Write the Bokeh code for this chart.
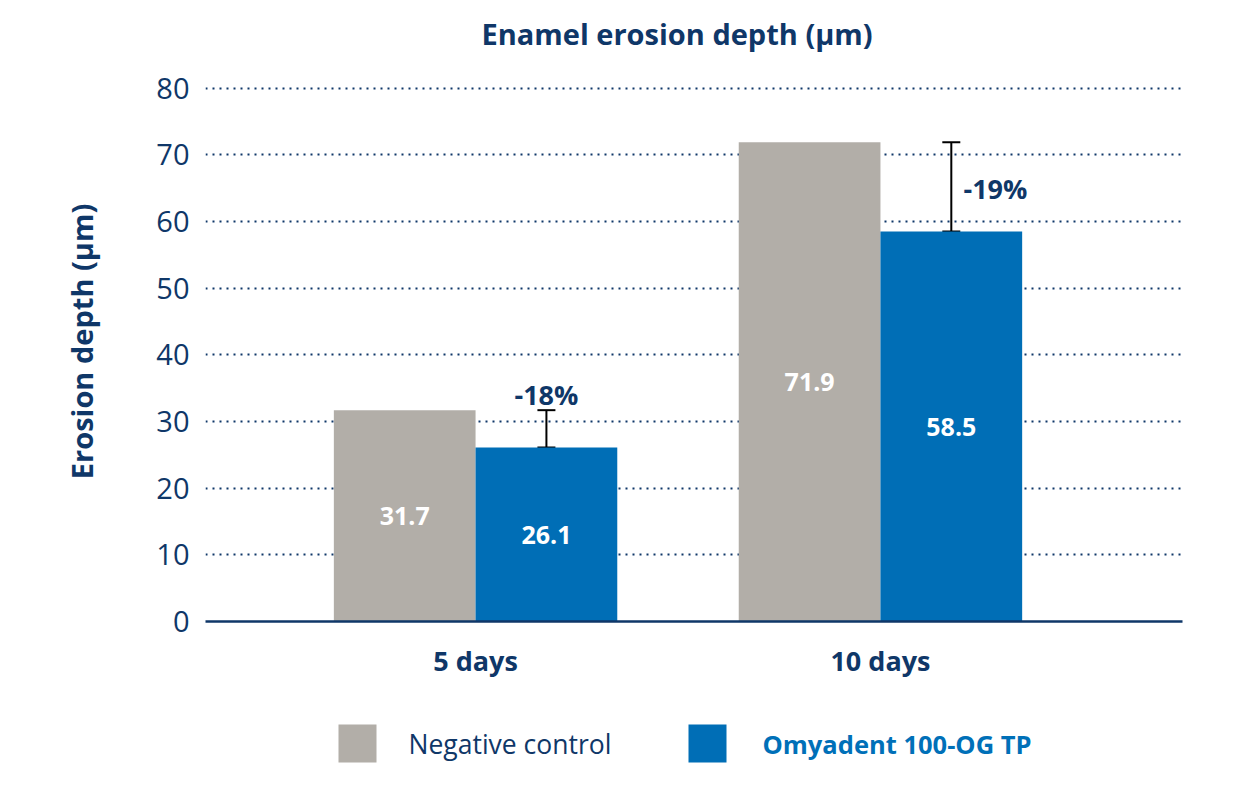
from bokeh.plotting import figure
from bokeh.layouts import column
from bokeh.models import (ColumnDataSource, FixedTicker, Whisker, TeeHead, Range1d)
from bokeh.core.properties import value
from bokeh.embed import file_html
from bokeh.resources import INLINE

# ---- data ----
categories = ["5 days", "10 days"]
cat_pos = [1.0, 2.0]
negative_control = [31.7, 71.9]
omyadent = [26.1, 58.5]
reduction_labels = ["-18%", "-19%"]
y_ticks = [0, 10, 20, 30, 40, 50, 60, 70, 80]
series_names = ["Negative control", "Omyadent 100-OG TP"]

NAVY = "#0f3768"
GRAY = "#b2aea8"
BLUE = "#006eb6"
LEG_BLUE = "#0070b8"
FONT = "Open Sans"
BW = 0.35
LEFT, RIGHT, W = 205, 60, 1242

p = figure(width=W, height=700, output_backend="svg", toolbar_location=None,
           x_range=Range1d(0.333, 2.746), y_range=Range1d(0, 84),
           min_border_left=LEFT, min_border_right=RIGHT, min_border_top=61,
           min_border_bottom=79)
p.outline_line_color = None

xs_ctrl = [c - BW / 2 for c in cat_pos]
xs_omy = [c + BW / 2 for c in cat_pos]
src = ColumnDataSource(dict(
    x_ctrl=xs_ctrl, x_omy=xs_omy, ctrl=negative_control, omy=omyadent,
    ctrl_mid=[v / 2 for v in negative_control], omy_mid=[v / 2 for v in omyadent],
    ctrl_txt=[f"{v:.1f}" for v in negative_control],
    omy_txt=[f"{v:.1f}" for v in omyadent],
))

p.vbar(x="x_ctrl", top="ctrl", width=BW, source=src, fill_color=GRAY, line_color=None)
p.vbar(x="x_omy", top="omy", width=BW, source=src, fill_color=BLUE, line_color=None)

# value labels inside bars
for xcol, ycol, tcol in (("x_ctrl", "ctrl_mid", "ctrl_txt"), ("x_omy", "omy_mid", "omy_txt")):
    p.text(x=xcol, y=ycol, text=tcol, source=src, text_color="white",
           text_font=value(FONT), text_font_style="bold", text_font_size="25px",
           text_align="center", text_baseline="middle")

# bracket from treatment to control
wsrc = ColumnDataSource(dict(base=xs_omy, lower=omyadent, upper=negative_control))
w = Whisker(source=wsrc, base="base", lower="lower", upper="upper",
            line_color="black", line_width=2,
            upper_head=TeeHead(size=18, line_color="black", line_width=2),
            lower_head=TeeHead(size=18, line_color="black", line_width=2))
p.add_layout(w)

# reduction labels
p.text(x=[xs_omy[0]], y=[negative_control[0] + 2.3], text=[reduction_labels[0]],
       text_color=NAVY, text_font=value(FONT), text_font_style="bold",
       text_font_size="27px", text_align="center", text_baseline="middle")
p.text(x=[xs_omy[1] + 0.03], y=[(negative_control[1] + omyadent[1]) / 2 - 0.3],
       text=[reduction_labels[1]], text_color=NAVY, text_font=value(FONT),
       text_font_style="bold", text_font_size="27px", text_align="left",
       text_baseline="middle")

# axes
p.yaxis.ticker = FixedTicker(ticks=y_ticks)
p.yaxis.axis_line_color = None
p.yaxis.major_tick_line_color = None
p.yaxis.major_tick_out = 0
p.yaxis.minor_tick_line_color = None
p.yaxis.major_label_text_font = FONT
p.yaxis.major_label_text_font_size = "29px"
p.yaxis.major_label_text_color = NAVY
p.yaxis.major_label_standoff = 16
p.yaxis.axis_label = "Erosion depth (µm)"
p.yaxis.axis_label_text_font = FONT
p.yaxis.axis_label_text_font_style = "bold"
p.yaxis.axis_label_text_font_size = "29px"
p.yaxis.axis_label_text_color = NAVY
p.yaxis.axis_label_standoff = 52

p.xaxis.ticker = FixedTicker(ticks=cat_pos)
p.xaxis.major_label_overrides = {cat_pos[i]: categories[i] for i in range(len(categories))}
p.xaxis.axis_line_color = NAVY
p.xaxis.axis_line_width = 2.5
p.xaxis.major_tick_line_color = None
p.xaxis.major_tick_out = 0
p.xaxis.minor_tick_line_color = None
p.xaxis.major_label_text_font = FONT
p.xaxis.major_label_text_font_style = "bold"
p.xaxis.major_label_text_font_size = "27px"
p.xaxis.major_label_text_color = NAVY
p.xaxis.major_label_standoff = 20

p.xgrid.grid_line_color = None
p.ygrid.grid_line_color = NAVY
p.ygrid.grid_line_width = 2
p.ygrid.grid_line_dash = "2 5"

# title
p.title.text = "Enamel erosion depth (µm)"
p.title.text_font = FONT
p.title.text_font_style = "bold"
p.title.text_font_size = "29px"
p.title.text_color = NAVY
p.title.align = "left"
p.title.offset = 276
p.title.standoff = 18

# legend strip (separate panel below, frame aligned with the chart frame;
# its x range is in page pixels)
leg = figure(width=W, height=80, output_backend="svg", toolbar_location=None,
             x_range=Range1d(LEFT, W - RIGHT), y_range=Range1d(0, 80),
             x_axis_type=None, y_axis_type=None,
             min_border_left=LEFT, min_border_right=RIGHT,
             min_border_top=0, min_border_bottom=0)
leg.outline_line_color = None
leg.grid.visible = False
sw_x = [357, 707]
sw_y = [37, 37]
leg.rect(x=sw_x, y=sw_y, width=38, height=38, fill_color=[GRAY, BLUE], line_color=None)
leg.text(x=[sw_x[0] + 51], y=[sw_y[0]], text=[series_names[0]], text_color=NAVY,
         text_font=value(FONT), text_font_size="26.5px", text_align="left",
         text_baseline="middle")
leg.text(x=[sw_x[1] + 55], y=[sw_y[1]], text=[series_names[1]], text_color=LEG_BLUE,
         text_font=value(FONT), text_font_style="bold", text_font_size="25.5px",
         text_align="left", text_baseline="middle")

layout = column(p, leg, spacing=0)
open("out.html", "w").write(file_html(layout, INLINE))
